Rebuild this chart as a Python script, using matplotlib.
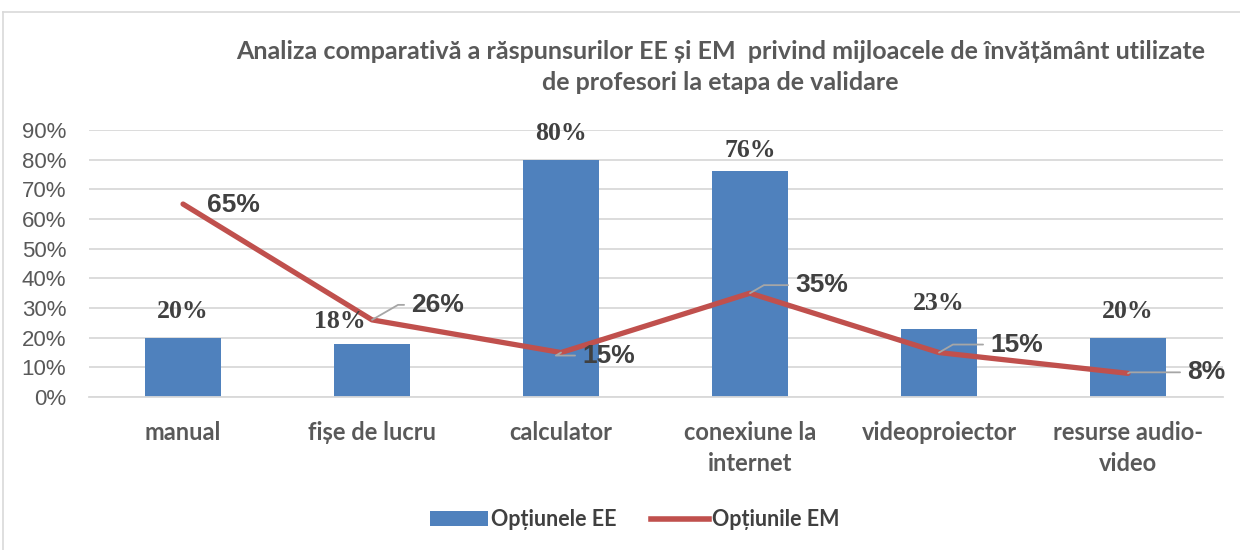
import matplotlib.pyplot as plt
import numpy as np
from matplotlib.lines import Line2D
from matplotlib.patches import Patch

plt.rcParams["font.family"] = ["Lato", "DejaVu Sans"]

# date
categorii = ["manual", "fișe de lucru", "calculator", "conexiune la\ninternet",
             "videoproiector", "resurse audio-\nvideo"]
optiuni_ee = [0.20, 0.18, 0.80, 0.76, 0.23, 0.20]
optiuni_em = [0.65, 0.26, 0.15, 0.35, 0.15, 0.08]
etichete_ee = ["20%", "18%", "80%", "76%", "23%", "20%"]
etichete_em = ["65%", "26%", "15%", "35%", "15%", "8%"]

# deplasari etichete (pixeli)
dx_ee = [0, -32, 0, 0, 0, 0]
dy_ee = [26, 22, 26, 21, 25, 26]
dx_em = [24, 39, 21, 45, 51, 59]
dy_em = [-1, 15, -3, 8, 8, 1]
leader = [False, True, True, True, True, True]

culoare_ee = "#4F81BD"
culoare_em = "#C0504D"
gri = "#595959"

fig = plt.figure(figsize=(12.4, 5.5), dpi=100)
ax = fig.add_axes([0.0714, 0.278, 0.9145, 0.486])

x = np.arange(len(categorii))
ax.bar(x, optiuni_ee, width=0.4, color=culoare_ee, zorder=2)
ax.plot(x, optiuni_em, color=culoare_em, linewidth=3.8, zorder=3,
        solid_capstyle="round", solid_joinstyle="round")

for i in range(len(x)):
    ax.annotate(etichete_ee[i], (x[i], optiuni_ee[i]), xytext=(dx_ee[i], dy_ee[i]),
                textcoords="offset pixels", ha="center", va="center",
                fontsize=18.5, fontweight="bold", color="#404040",
                family="Liberation Serif", zorder=5)
    props = None
    if leader[i]:
        props = dict(arrowstyle="-", color="#A6A6A6", lw=1.3,
                     connectionstyle="angle,angleA=0,angleB=30,rad=0",
                     shrinkA=3, shrinkB=0, relpos=(0, 0.5))
    ax.annotate(etichete_em[i], (x[i], optiuni_em[i]), xytext=(dx_em[i], dy_em[i]),
                textcoords="offset pixels", ha="left", va="center",
                fontsize=19, fontweight="bold", color="#404040",
                family="Liberation Sans", arrowprops=props, zorder=5)

ax.set_xlim(-0.5, len(x) - 0.5)
ax.set_ylim(0, 0.9)
ax.set_yticks(np.arange(0, 0.91, 0.1))
ax.set_yticklabels([f"{int(round(v * 100))}%" for v in np.arange(0, 0.91, 0.1)],
                   family="Liberation Sans", fontsize=16, color=gri)
ax.set_xticks(x)
ax.set_xticklabels(categorii, fontsize=17, fontweight="bold", color=gri,
                   linespacing=1.45)
ax.tick_params(axis="both", length=0)
ax.tick_params(axis="x", pad=17)
ax.tick_params(axis="y", pad=16)
ax.grid(axis="y", color="#D9D9D9", linewidth=1.3, zorder=0)
ax.set_axisbelow(True)
for s in ["top", "right", "left"]:
    ax.spines[s].set_visible(False)
ax.spines["bottom"].set_color("#D9D9D9")
ax.spines["bottom"].set_linewidth(1.3)

fig.text(0.581, 0.879, "Analiza comparativă a răspunsurilor EE și EM  privind mijloacele de învățământ utilizate\nde profesori la etapa de validare",
         ha="center", va="center", fontsize=18, fontweight="bold", color=gri,
         linespacing=1.42)

handles = [Patch(facecolor=culoare_ee, edgecolor="none"),
           Line2D([0], [0], color=culoare_em, linewidth=4)]
fig.legend(handles, ["Opțiunele EE", "Opțiunile EM"], loc="center",
           bbox_to_anchor=(0.512, 0.055), ncol=2, frameon=False,
           prop={"weight": "bold", "size": 15.5}, labelcolor="#404040",
           handlelength=2.7, handleheight=0.7, handletextpad=0.15, columnspacing=1.6)

# chenar exterior
fig.add_artist(Line2D([0.0025, 1.0], [0.978, 0.978], color="#D9D9D9", lw=1.2))
fig.add_artist(Line2D([0.0025, 0.0025], [0.0, 0.978], color="#D9D9D9", lw=1.2))

fig.savefig("out.png", dpi=100)
